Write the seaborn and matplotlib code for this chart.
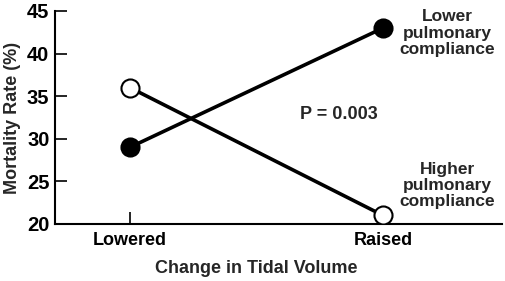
import matplotlib
matplotlib.use("Agg")
import matplotlib.pyplot as plt
import seaborn as sns
import pandas as pd

categories = ["Lowered", "Raised"]
lower_compliance = [29, 43]
higher_compliance = [36, 21]
yticks = [20, 25, 30, 35, 40, 45]

sns.set_theme(style="ticks")
plt.rcParams['font.family'] = ['Liberation Sans', 'DejaVu Sans']
plt.rcParams['font.weight'] = 'bold'

fig = plt.figure(figsize=(5.05, 2.81), dpi=100)
ax = fig.add_axes([0.109, 0.203, 0.885, 0.758])

df_low = pd.DataFrame({"x": [0, 1], "y": lower_compliance})
df_high = pd.DataFrame({"x": [0, 1], "y": higher_compliance})

sns.lineplot(data=df_low, x="x", y="y", ax=ax, color="black", linewidth=2.6,
             marker="o", markersize=13, markerfacecolor="black",
             markeredgecolor="black", markeredgewidth=1.5, zorder=3)
sns.lineplot(data=df_high, x="x", y="y", ax=ax, color="black", linewidth=2.6,
             marker="o", markersize=13, markerfacecolor="white",
             markeredgecolor="black", markeredgewidth=1.5, zorder=3)

ax.set_xlim(-0.296, 1.47)
ax.set_ylim(20, 45)
ax.set_yticks(yticks)
ax.set_yticklabels([str(v) for v in yticks], fontsize=14.5, fontweight='bold')
ax.set_xticks([0, 1])
ax.set_xticklabels(categories, fontsize=13, fontweight='bold')
ax.tick_params(axis='both', direction='in', length=8.5, width=1.2, colors='black')
ax.tick_params(axis='y', pad=4)
ax.tick_params(axis='x', pad=6)

for s in ['top', 'right']:
    ax.spines[s].set_visible(False)
for s in ['left', 'bottom']:
    ax.spines[s].set_linewidth(1.5)
    ax.spines[s].set_color('black')

ax.set_xlabel("Change in Tidal Volume", fontsize=13, fontweight='bold')
ax.xaxis.set_label_coords(0.45, -0.17)
ax.set_ylabel("Mortality Rate (%)", fontsize=13, fontweight='bold')
ax.yaxis.set_label_coords(-0.076, 0.5)

ax.text(1.255, 42.4, "Lower\npulmonary\ncompliance", ha='center', va='center',
        fontsize=12.5, fontweight='bold', linespacing=1.1)
ax.text(1.255, 24.5, "Higher\npulmonary\ncompliance", ha='center', va='center',
        fontsize=12.5, fontweight='bold', linespacing=1.1)
ax.text(0.67, 32.8, "P = 0.003", ha='left', va='center', fontsize=13, fontweight='bold')

fig.savefig("out.png", dpi=100)
